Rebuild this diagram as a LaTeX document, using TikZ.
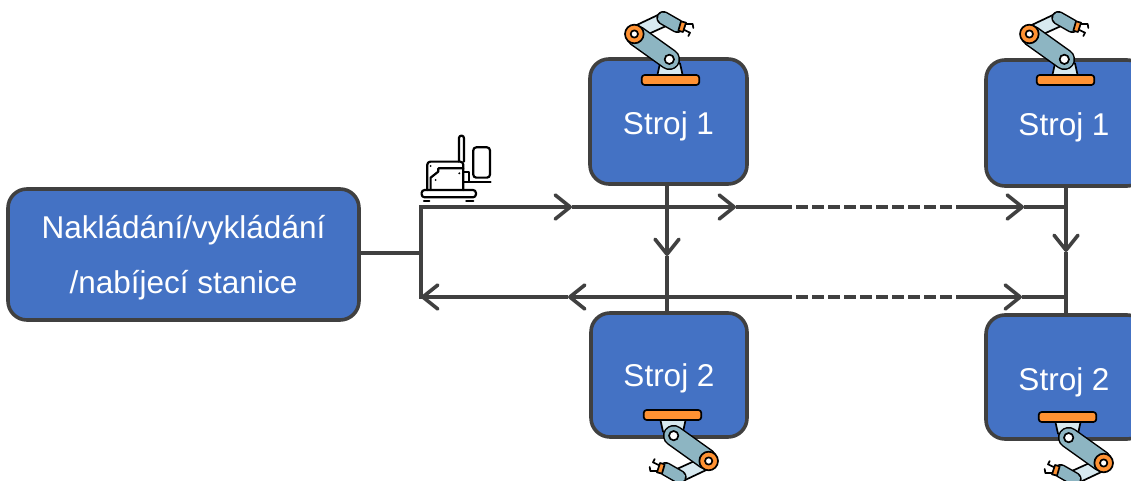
\documentclass[tikz,border=0pt]{standalone}
\usepackage{fontspec}
\setmainfont{Liberation Sans}
\usetikzlibrary{arrows.meta}
\definecolor{boxblue}{HTML}{4472C4}
\definecolor{linegray}{HTML}{404040}
\definecolor{armteal}{HTML}{8DB5C2}
\definecolor{armlight}{HTML}{D7E9F0}
\definecolor{joint}{HTML}{FF9233}
\newcommand{\lifted}[2]{\raisebox{-#1}[\height][\depth]{#2}}
\tikzset{
  x=1pt,y=-1pt,
  blockbox/.style={draw=linegray,line width=3.6pt,fill=boxblue,rounded corners=19pt,text=white,align=center,font=\fontsize{31.5}{55}\selectfont,inner sep=0pt},
  conn/.style={draw=linegray,line width=3.6pt},
  arr/.style={conn,-{Straight Barb[length=15pt,width=24pt,line width=3.6pt,round]}},
  dashconn/.style={conn,line width=3.4pt,dash pattern=on 12pt off 4pt},
  iconline/.style={draw=black,line width=1.7pt,line join=round,line cap=round},
  loaderline/.style={draw=black,line width=2.2pt,line join=round,line cap=round},
  pics/robot/.style={code={
    \begin{scope}[x=0.3333pt,y=-0.3333pt,shift={(-270,-240)}]
      \draw[iconline,fill=armlight] (240,190)--(300,190)--(308,226)--(232,226)--cycle;
      \draw[iconline,fill=armlight] (168,76)--(240,42)--(265,75)--(192,108)--cycle;
      \draw[black,line width=14pt,line cap=round] (250,54)--(292,78);
      \draw[armteal,line width=11pt,line cap=round] (250,54)--(292,78);
      \draw[iconline,fill=joint] (303,64)--(318,68)--(309,96)--(295,92)--cycle;
      \draw[iconline,fill=none] (318,72)--(338,72)--(340,84) (313,90)--(330,98)--(325,108);
      \draw[black,line width=21.5pt,line cap=round] (268,178)--(170,108);
      \draw[armteal,line width=18.5pt,line cap=round] (268,178)--(170,108);
      \draw[iconline,fill=white] (268,178) circle[radius=14];
      \draw[iconline,fill=joint] (163,102) circle[radius=28];
      \draw[iconline,fill=white] (163,102) circle[radius=11];
      \draw[iconline,fill=joint,rounded corners=3pt] (185,225) rectangle (358,255);
    \end{scope}
  }},
}
\begin{document}
\begin{tikzpicture}
\useasboundingbox (0,0) rectangle (1131,481);
% blocks
\node[blockbox,minimum width=351pt,minimum height=131pt] (load) at (183.5,254.5) {\lifted{3pt}{Nakládání/vykládání}\\\lifted{3pt}{/nabíjecí stanice}};
\node[blockbox,minimum width=157pt,minimum height=125pt] (m1) at (668.5,121.5) {\lifted{5pt}{Stroj 1}};
\node[blockbox,minimum width=156pt,minimum height=124pt] (m2) at (669,375) {\lifted{3pt}{Stroj 2}};
\node[blockbox,minimum width=160pt,minimum height=126pt] (m3) at (1066,123) {\lifted{4pt}{\hspace{-4pt}Stroj 1}};
\node[blockbox,minimum width=160pt,minimum height=124pt] (m4) at (1066,377) {\lifted{5pt}{\hspace{-4pt}Stroj 2}};
% junctions
\coordinate (jl) at (421,253);
\coordinate (jt) at (421,207);
\coordinate (jb) at (421,297);
\coordinate (t1) at (572,207);
\coordinate (t2) at (736,207);
\coordinate (t3) at (780,207);
\coordinate (t4) at (958,207);
\coordinate (t5) at (1024,207);
\coordinate (t6) at (1066,207);
\coordinate (b1) at (568,297);
\coordinate (b3) at (780,297);
\coordinate (b4) at (958,297);
\coordinate (b5) at (1022,297);
\coordinate (b6) at (1066,297);
\coordinate (v1) at (667,256);
\coordinate (v2) at (1066,252);
% connectors
\draw[conn] (load.east |- jl) -- (jl);
\draw[conn,line cap=rect] (jt) -- (jb);
\draw[arr] (jt) -- (t1);
\draw[arr] (t1) -- (t2);
\draw[conn] (t2) -- (t3);
\draw[dashconn] (t3) -- (t4);
\draw[arr] (t4) -- (t5);
\draw[conn] (t5) -- (t6);
\draw[arr] (v1 |- m1.south) -- (v1);
\draw[conn] (v1) -- (v1 |- m2.north);
\draw[arr] (v2 |- m3.south) -- (v2);
\draw[conn] (v2) -- (v2 |- m4.north);
\draw[arr] (b1) -- (jb);
\draw[arr] (b3) -- (b1);
\draw[dashconn] (b3) -- (b4);
\draw[arr] (b4) -- (b5);
\draw[conn] (b5) -- (b6);
% robots
\pic at (670,80) {robot};
\pic at (1065,80) {robot};
\pic[xscale=-1,yscale=-1] at (673,415) {robot};
\pic[xscale=-1,yscale=-1] at (1068,417) {robot};
% loader icon
\begin{scope}[x=0.3333pt,y=-0.3333pt,shift={(1200,375)}]
  \draw[loaderline,rounded corners=3pt] (65,195) rectangle (228,217);
  \draw[loaderline] (72,229)--(88,229) (199,229)--(220,229);
  \draw[loaderline,rounded corners=3pt] (82,195)--(82,110)--(190,110)--(190,195);
  \draw[loaderline,rounded corners=2.4pt] (177,110)--(177,32)--(192,32)--(192,110);
  \draw[loaderline] (92,195)--(92,158)--(115,140)--(115,130)--(190,130);
  \draw[loaderline] (193,140)--(207,140)--(207,172)--(193,172);
  \draw[loaderline,rounded corners=3pt] (220,67) rectangle (270,158);
  \draw[loaderline] (193,172)--(272,172);
  \fill (92,123) circle[radius=3.2] (107,165) circle[radius=3.2] (178,145) circle[radius=3.2];
\end{scope}
\end{tikzpicture}
\end{document}
